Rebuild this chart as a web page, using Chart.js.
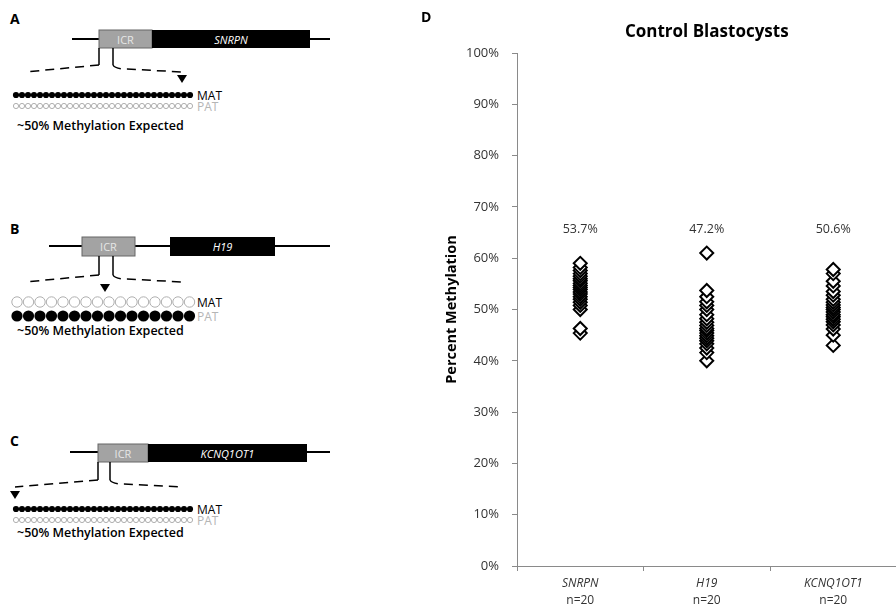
<!DOCTYPE html>
<html>
<head>
<meta charset="utf-8">
<script src="https://cdn.jsdelivr.net/npm/chart.js@4/dist/chart.umd.min.js"></script>
<style>
  html, body { margin: 0; padding: 0; background: #fff; overflow: hidden; width: 896px; height: 613px; }
  #diagram { position: absolute; left: 0; top: 0; width: 420px; height: 613px; }
  #wrap { position: absolute; left: 420px; top: 0; width: 485px; height: 613px; }
</style>
</head>
<body>
<svg id="diagram" width="420" height="613" xmlns="http://www.w3.org/2000/svg"></svg>
<div id="wrap"><canvas id="c"></canvas></div>
<script>
// ---- Panel D data: percent methylation per blastocyst, per imprinted gene ----
const categories = ['SNRPN', 'H19', 'KCNQ1OT1'];
const sampleSizes = ['n=20', 'n=20', 'n=20'];
const meanLabels = ['53.7%', '47.2%', '50.6%'];
const snrpnValues = [45.4, 46.3, 50.0, 50.8, 51.4, 52.0, 52.5, 53.0, 53.4, 53.9, 54.3, 54.7, 55.1, 55.6, 56.0, 56.5, 57.0, 57.6, 58.2, 59.0];
const h19Values = [40.0, 41.6, 42.5, 43.3, 43.9, 44.4, 44.9, 45.4, 45.9, 46.3, 46.9, 47.5, 48.2, 49.0, 50.0, 50.8, 51.5, 52.5, 53.7, 61.0];
const kcnqValues = [43.0, 45.0, 46.2, 47.0, 47.6, 48.1, 48.6, 49.0, 49.5, 50.0, 50.4, 50.9, 51.4, 52.0, 52.8, 53.5, 54.6, 55.5, 57.0, 57.8];
const yTickValues = [0, 10, 20, 30, 40, 50, 60, 70, 80, 90, 100];

// ---- Panels A-C: ICR schematics ----
const svg = document.getElementById('diagram');
const NS = 'http://www.w3.org/2000/svg';
function el(tag, attrs, text) {
  const e = document.createElementNS(NS, tag);
  for (const k in attrs) e.setAttribute(k, attrs[k]);
  if (text !== undefined) e.textContent = text;
  svg.appendChild(e);
  return e;
}
const FONT = "'Open Sans', 'DejaVu Sans', sans-serif";
function txt(x, y, s, opts) {
  opts = opts || {};
  return el('text', {
    x, y, 'font-family': FONT,
    'font-size': opts.size || 10,
    'font-weight': opts.weight || 'normal',
    'font-style': opts.style || 'normal',
    fill: opts.fill || '#000',
    'text-anchor': opts.anchor || 'start'
  }, s);
}
function gene(p) {
  txt(10, p.letterY, p.letter, { size: 14, weight: 'bold' });
  el('line', { x1: p.lineX1, x2: 330, y1: p.lineY, y2: p.lineY, stroke: '#000', 'stroke-width': 2 });
  el('rect', { x: p.icrX, y: p.boxY, width: p.icrW, height: p.boxH, fill: '#a3a3a3', stroke: '#666', 'stroke-width': 1 });
  el('rect', { x: p.geneX, y: p.boxY, width: p.geneW, height: p.boxH, fill: '#000' });
  txt(p.icrX + p.icrW / 2, p.boxY + 13.5, 'ICR', { size: 11, fill: '#e6e6e6', anchor: 'middle' });
  txt(p.geneX + p.geneW / 2, p.boxY + 13.5, p.name, { size: 11, fill: '#fff', anchor: 'middle', style: 'italic' });
  const yb = p.boxY + p.boxH;
  el('line', { x1: p.t1, x2: p.t1, y1: yb, y2: p.tickEnd, stroke: '#000', 'stroke-width': 1.5 });
  el('line', { x1: p.t2, x2: p.t2, y1: yb, y2: p.tickEnd, stroke: '#000', 'stroke-width': 1.5 });
  el('path', { d: `M${p.t1},${p.tickEnd} L${p.leftEnd},${p.tickEnd + 7}`, stroke: '#000', fill: 'none', 'stroke-width': 1.5, 'stroke-dasharray': '9,6' });
  el('path', { d: `M${p.t2},${p.tickEnd} Q${p.t2 + 2},${p.tickEnd + 4} ${p.t2 + 14},${p.tickEnd + 4} L182,${p.tickEnd + 7}`, stroke: '#000', fill: 'none', 'stroke-width': 1.5, 'stroke-dasharray': '9,6' });
  el('polygon', { points: `${p.arrowX - 5},${p.arrowY} ${p.arrowX + 5},${p.arrowY} ${p.arrowX},${p.arrowY + 8}`, fill: '#000' });
  // allele rows
  p.rows.forEach(r => {
    for (let i = 0; i < r.count; i++) {
      const cx = r.x0 + i * r.step;
      if (r.filled) el('circle', { cx, cy: r.y, r: r.r, fill: '#000' });
      else el('circle', { cx, cy: r.y, r: r.r, fill: 'none', stroke: '#b0b0b0', 'stroke-width': 1 });
    }
    txt(197, r.y + 4.5, r.label, { size: 12, fill: r.labelFill });
  });
  txt(17, p.noteY, '~50% Methylation Expected', { size: 12.5, weight: 600 });
}
gene({ letter: 'A', letterY: 24, lineX1: 72, lineY: 39, icrX: 99, icrW: 53, geneX: 152, geneW: 158, boxY: 30, boxH: 18,
  name: 'SNRPN', t1: 99, t2: 113, tickEnd: 65, leftEnd: 25, arrowX: 182, arrowY: 75,
  rows: [ { y: 95, count: 30, x0: 16, step: 6, r: 3.1, filled: true, label: 'MAT', labelFill: '#000' },
          { y: 106, count: 30, x0: 16, step: 6, r: 2.6, filled: false, label: 'PAT', labelFill: '#b5b5b5' } ],
  noteY: 130 });
gene({ letter: 'B', letterY: 234, lineX1: 49, lineY: 246, icrX: 82, icrW: 53, geneX: 170, geneW: 105, boxY: 237, boxH: 19,
  name: 'H19', t1: 99, t2: 113, tickEnd: 275, leftEnd: 25, arrowX: 105, arrowY: 284,
  rows: [ { y: 302, count: 16, x0: 17, step: 11.5, r: 5.2, filled: false, label: 'MAT', labelFill: '#000' },
          { y: 316, count: 16, x0: 17, step: 11.5, r: 5.6, filled: true, label: 'PAT', labelFill: '#b5b5b5' } ],
  noteY: 335 });
gene({ letter: 'C', letterY: 446, lineX1: 70, lineY: 452, icrX: 98, icrW: 50, geneX: 148, geneW: 159, boxY: 444, boxH: 18,
  name: 'KCNQ1OT1', t1: 98, t2: 110, tickEnd: 480, leftEnd: 15, arrowX: 15, arrowY: 491,
  rows: [ { y: 509, count: 30, x0: 16, step: 6, r: 3.1, filled: true, label: 'MAT', labelFill: '#000' },
          { y: 520, count: 30, x0: 16, step: 6, r: 2.6, filled: false, label: 'PAT', labelFill: '#b5b5b5' } ],
  noteY: 537 });

// ---- Panel D: scatter of methylation by gene ----
Chart.defaults.font.family = "'Open Sans', 'DejaVu Sans', sans-serif";
const seriesValues = [snrpnValues, h19Values, kcnqValues];
const datasets = seriesValues.map((vals, i) => ({
  label: categories[i],
  data: vals.map(v => ({ x: categories[i], y: v })),
  showLine: false,
  pointStyle: 'rectRot',
  pointRadius: 6.5,
  pointHoverRadius: 6.5,
  borderColor: '#000',
  backgroundColor: '#fff',
  pointBorderWidth: 2
}));

const panelText = {
  id: 'panelText',
  afterDatasetsDraw(chart) {
    const { ctx, chartArea, scales } = chart;
    const xs = scales.x, ys = scales.y;
    ctx.save();
    ctx.fillStyle = '#000';
    ctx.textBaseline = 'middle';
    // panel letter and chart title
    ctx.textAlign = 'left';
    ctx.font = "bold 14px 'Open Sans', sans-serif";
    ctx.fillText('D', 1, 18);
    ctx.textAlign = 'center';
    ctx.font = "bold 17px 'Open Sans', sans-serif";
    ctx.fillText('Control Blastocysts', (chartArea.left + chartArea.right) / 2, 32);
    // mean labels above each group
    ctx.font = "12.5px 'Open Sans', sans-serif";
    ctx.fillStyle = '#333';
    categories.forEach((c, i) => {
      ctx.fillText(meanLabels[i], xs.getPixelForValue(i), ys.getPixelForValue(65.7));
    });
    // category labels: gene name (italic) and sample size
    categories.forEach((c, i) => {
      const x = xs.getPixelForValue(i);
      ctx.font = "italic 12px 'Open Sans', sans-serif";
      ctx.fillText(c, x, chartArea.bottom + 18);
      ctx.font = "12px 'Open Sans', sans-serif";
      ctx.fillText(sampleSizes[i], x, chartArea.bottom + 35);
    });
    ctx.restore();
  }
};

new Chart(document.getElementById('c'), {
  type: 'line',
  data: { labels: categories, datasets },
  options: {
    responsive: true,
    maintainAspectRatio: false,
    animation: false,
    layout: { padding: { top: 53, right: 4, left: 0, bottom: 0 } },
    plugins: { legend: { display: false }, tooltip: { enabled: false }, title: { display: false } },
    scales: {
      x: {
        type: 'category',
        offset: true,
        grid: { offset: true, drawOnChartArea: false, tickLength: 5, color: '#8a8a8a' },
        border: { color: '#8a8a8a', width: 1 },
        ticks: { display: false },
        afterFit: s => { s.height = 47; }
      },
      y: {
        min: 0,
        max: 100,
        afterBuildTicks: s => { s.ticks = yTickValues.map(v => ({ value: v })); },
        grid: { drawOnChartArea: false, tickLength: 5, color: '#8a8a8a' },
        border: { color: '#8a8a8a', width: 1 },
        ticks: { padding: 13, color: '#333', font: { size: 13 }, callback: v => v + '%' },
        title: { display: true, text: 'Percent Methylation', color: '#000', font: { size: 14.5, weight: 'bold' }, padding: { top: 23, bottom: 0 } },
        afterFit: s => { s.width = 97; }
      }
    }
  },
  plugins: [panelText]
});
</script>
</body>
</html>
